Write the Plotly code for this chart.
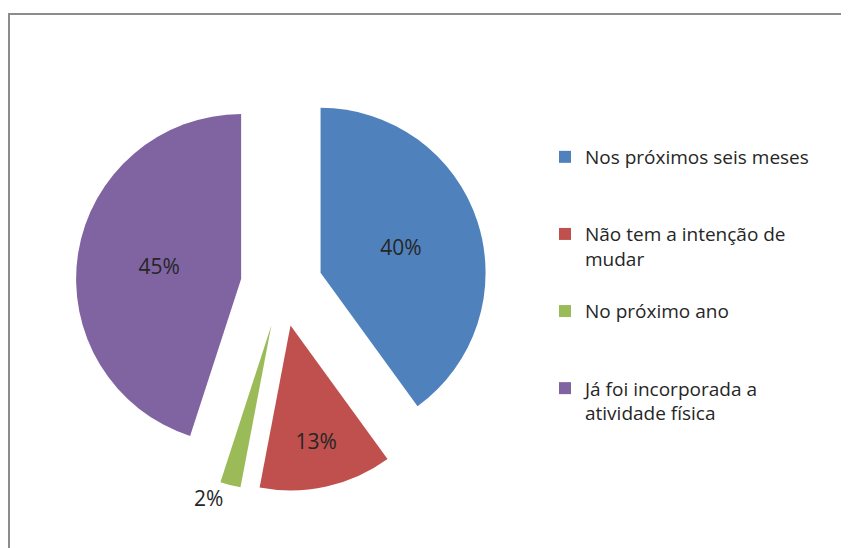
import plotly.graph_objects as go

# Chart data
labels = [
    "Nos próximos seis meses",
    "Não tem a intenção de<br>mudar",
    "No próximo ano",
    "Já foi incorporada a<br>atividade física",
]
values = [40, 13, 2, 45]
colors = ["#4F81BD", "#C0504D", "#9BBB59", "#8064A2"]
text_positions = ["inside", "inside", "outside", "inside"]

# pad each legend entry to the same number of lines so the spacing is even
pad = "\u00a0"
legend_labels = []
for lab in labels:
    n = lab.count("<br>") + 1
    legend_labels.append(lab + "<br>" * (3 - n) + (pad if n < 3 else ""))

fig = go.Figure(
    go.Pie(
        labels=legend_labels,
        values=values,
        sort=False,
        direction="clockwise",
        rotation=0,
        pull=0.2485,
        marker=dict(colors=colors, line=dict(width=0)),
        textinfo="percent",
        texttemplate="%{percent:.0%}",
        textposition=text_positions,
        insidetextorientation="horizontal",
        textfont=dict(size=21, color="#262626", family="Open Sans"),
        domain=dict(x=[0.0796, 0.5649], y=[0.1177, 0.8695]),
        hoverinfo="label+percent",
    )
)

fig.update_layout(
    width=849,
    height=548,
    margin=dict(t=0, b=0, l=0, r=0, pad=0, autoexpand=False),
    paper_bgcolor="white",
    plot_bgcolor="white",
    font=dict(family="Open Sans", color="#262626"),
    showlegend=True,
    legend=dict(
        x=0.6325,
        y=0.7628,
        xanchor="left",
        yanchor="top",
        valign="top",
        font=dict(size=19, family="Open Sans", color="#262626"),
        bgcolor="rgba(0,0,0,0)",
        traceorder="normal",
    ),
    shapes=[
        dict(
            type="rect",
            xref="paper",
            yref="paper",
            x0=1 / 849,
            x1=1.02,
            y0=-0.02,
            y1=1 - 6 / 548,
            line=dict(color="#8c8c8c", width=2),
            fillcolor="rgba(0,0,0,0)",
        )
    ],
)

fig.write_html("out.html")
